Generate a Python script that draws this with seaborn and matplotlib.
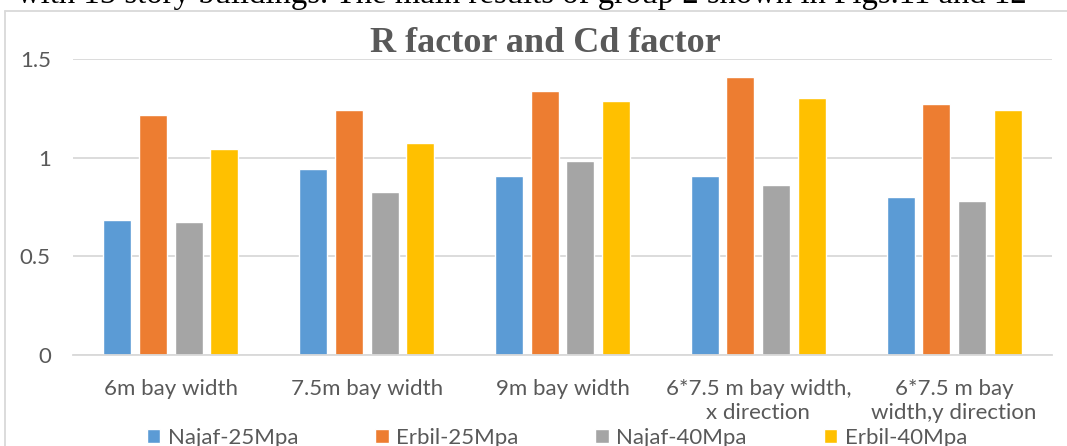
import numpy as np
import pandas as pd
import seaborn as sns
import matplotlib.pyplot as plt
from matplotlib.lines import Line2D

# values
categories = ["6m bay width", "7.5m bay width", "9m bay width",
              "6*7.5 m bay width,\nx direction", "6*7.5 m bay\nwidth,y direction"]
series = ["Najaf-25Mpa", "Erbil-25Mpa", "Najaf-40Mpa", "Erbil-40Mpa"]
najaf_25 = [0.683, 0.944, 0.908, 0.906, 0.802]
erbil_25 = [1.218, 1.241, 1.339, 1.410, 1.270]
najaf_40 = [0.675, 0.827, 0.984, 0.862, 0.781]
erbil_40 = [1.045, 1.076, 1.287, 1.304, 1.241]
colors = ["#5B9BD5", "#ED7D31", "#A5A5A5", "#FFC000"]
yticks = [0, 0.5, 1, 1.5]
ytick_labels = ["0", "0.5", "1", "1.5"]

df = pd.DataFrame({
    "case": categories * len(series),
    "series": np.repeat(series, len(categories)),
    "value": najaf_25 + erbil_25 + najaf_40 + erbil_40,
})

sns.set_theme(style="white")
plt.rcParams["font.family"] = ["Lato", "DejaVu Sans"]

W, H = 1067, 446
fig, ax = plt.subplots(figsize=(W / 100, H / 100), dpi=100)
fig.subplots_adjust(left=73 / W, right=1052 / W, bottom=1 - 355 / H, top=1 - 59 / H)

sns.barplot(data=df, x="case", y="value", hue="series", order=categories,
            hue_order=series, palette=colors, saturation=1,
            width=0.728, gap=0.214, ax=ax)

ax.set_xlim(-0.5, 4.5)
ax.set_ylim(0, 1.5)
ax.set_yticks(yticks)
ax.set_yticklabels(ytick_labels)
ax.set_xlabel("")
ax.set_ylabel("")
ax.yaxis.grid(True, color="#d9d9d9", lw=1.3)
ax.set_axisbelow(True)
sns.despine(ax=ax, left=True)
ax.spines["bottom"].set_color("#d9d9d9")
ax.spines["bottom"].set_linewidth(1.3)
ax.tick_params(axis="both", length=0, colors="#595959", labelsize=16)
ax.tick_params(axis="y", pad=16)
ax.tick_params(axis="x", pad=17)
for lab in ax.get_xticklabels():
    lab.set_linespacing(1.3)

sns.move_legend(ax, "center", bbox_to_anchor=(557 / W, 1 - 438 / H),
                bbox_transform=fig.transFigure, ncol=4, frameon=False,
                title=None, fontsize=16, handlelength=0.6, handleheight=0.6,
                handletextpad=0.35, columnspacing=3.45, labelcolor="#595959")

# chart title and the cut-off line of page text above the chart
fig.text(545 / W, 1 - 52 / H, "R factor and Cd factor", ha="center", va="baseline",
         family="Liberation Serif", weight="bold", size=26, color="#595959")
fig.text(1027 / W, 1 - 3 / H,
         "with 15 story buildings. The main results of group 2 shown in Figs.11 and 12",
         ha="right", va="baseline", family="Liberation Serif", size=23.6, color="black")

# light chart-area frame
fig.add_artist(Line2D([5 / W, 5 / W], [0, 1 - 10.5 / H], transform=fig.transFigure,
                      color="#d9d9d9", lw=1.3))
fig.add_artist(Line2D([5 / W, 1], [1 - 10.5 / H, 1 - 10.5 / H], transform=fig.transFigure,
                      color="#d9d9d9", lw=1.3))

fig.savefig("out.png", dpi=100)
